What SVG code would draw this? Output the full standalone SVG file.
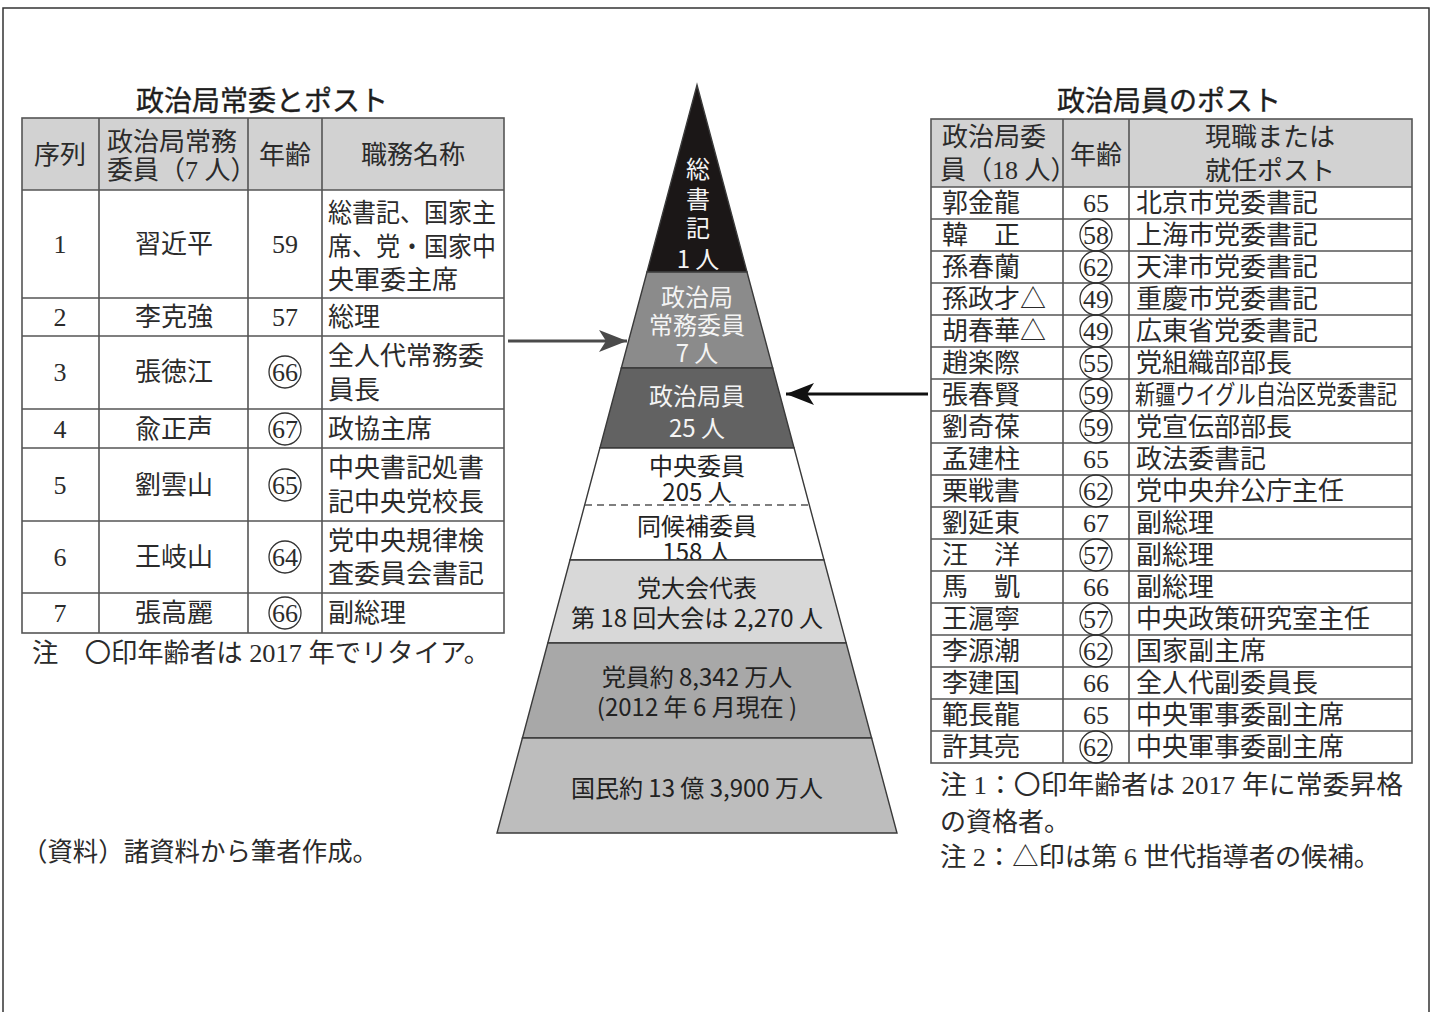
<svg xmlns="http://www.w3.org/2000/svg" width="1437" height="1012" viewBox="0 0 1437 1012">
<defs>
<style>
.t{font-family:"Liberation Serif","Noto Sans CJK JP",serif;font-size:26px;fill:#2b2b2b;dominant-baseline:central}
.m{text-anchor:middle}
.h{font-family:"Noto Sans CJK JP",sans-serif;font-size:28px;fill:#1e1e1e;text-anchor:middle;dominant-baseline:central;stroke:#1e1e1e;stroke-width:0.4}
.p{font-family:"Noto Sans CJK JP",sans-serif;font-size:24px;text-anchor:middle;dominant-baseline:central;fill:#222}
.w{fill:#f4f4f4}
.g{stroke:#555;stroke-width:1.6;fill:none}
.hd{fill:#d2d2d2}
.c{fill:none;stroke:#333;stroke-width:1.3}
.layer{stroke:#3a3a3a;stroke-width:1.4}
</style>
<marker id="ahL" markerUnits="userSpaceOnUse" markerWidth="30" markerHeight="24" refX="28" refY="11" orient="auto">
<path d="M0,0 L28,11 L0,22 L7,11 z" fill="#4a4a4a"/>
</marker>
<marker id="ahR" markerUnits="userSpaceOnUse" markerWidth="30" markerHeight="24" refX="28" refY="11" orient="auto">
<path d="M0,0 L28,11 L0,22 L7,11 z" fill="#111"/>
</marker>
</defs>
<rect width="1437" height="1012" fill="#fff"/>
<path d="M3,1012 V8 H1429 V1012" fill="none" stroke="#333" stroke-width="1.5"/>

<g id="title-left"><text class="h" x="262" y="99">政治局常委とポスト</text></g>

<g id="table-left">
<rect class="hd" x="22" y="118" width="482" height="72"/>
<rect class="g" x="22" y="118" width="482" height="515"/>
<path class="g" d="M99,118V633 M248,118V633 M322,118V633 M22,190H504 M22,298H504 M22,336H504 M22,409H504 M22,448H504 M22,521H504 M22,593H504"/>
<text class="t m" x="60" y="155">序列</text>
<text class="t" x="107" y="142">政治局常務</text>
<text class="t" x="107" y="170">委員（7 人）</text>
<text class="t m" x="285" y="155">年齢</text>
<text class="t m" x="413" y="155">職務名称</text>
<text class="t m" x="60" y="244">1</text><text class="t m" x="174" y="244">習近平</text><text class="t m" x="285" y="244">59</text>
<text class="t" x="328" y="213" textLength="168" lengthAdjust="spacingAndGlyphs">総書記、国家主</text>
<text class="t" x="328" y="247" textLength="168" lengthAdjust="spacingAndGlyphs">席、党・国家中</text>
<text class="t" x="328" y="280">央軍委主席</text>
<text class="t m" x="60" y="317">2</text><text class="t m" x="174" y="317">李克強</text><text class="t m" x="285" y="317">57</text><text class="t" x="328" y="317">総理</text>
<text class="t m" x="60" y="372">3</text><text class="t m" x="174" y="372">張徳江</text><circle class="c" cx="285" cy="372" r="16"/><text class="t m" x="285" y="372">66</text>
<text class="t" x="328" y="356">全人代常務委</text><text class="t" x="328" y="390">員長</text>
<text class="t m" x="60" y="429">4</text><text class="t m" x="174" y="429">兪正声</text><circle class="c" cx="285" cy="429" r="16"/><text class="t m" x="285" y="429">67</text><text class="t" x="328" y="429">政協主席</text>
<text class="t m" x="60" y="485">5</text><text class="t m" x="174" y="485">劉雲山</text><circle class="c" cx="285" cy="485" r="16"/><text class="t m" x="285" y="485">65</text>
<text class="t" x="328" y="468">中央書記処書</text><text class="t" x="328" y="502">記中央党校長</text>
<text class="t m" x="60" y="557">6</text><text class="t m" x="174" y="557">王岐山</text><circle class="c" cx="285" cy="557" r="16"/><text class="t m" x="285" y="557">64</text>
<text class="t" x="328" y="541">党中央規律検</text><text class="t" x="328" y="574">査委員会書記</text>
<text class="t m" x="60" y="613">7</text><text class="t m" x="174" y="613">張高麗</text><circle class="c" cx="285" cy="613" r="16"/><text class="t m" x="285" y="613">66</text><text class="t" x="328" y="613">副総理</text>
</g>

<g id="note-left"><text class="t" x="32" y="653" textLength="458" lengthAdjust="spacingAndGlyphs">注　〇印年齢者は 2017 年でリタイア。</text></g>
<g id="source"><text class="t" x="22" y="852" textLength="356" lengthAdjust="spacingAndGlyphs">（資料）諸資料から筆者作成。</text></g>

<g id="pyramid">
<g id="layer-1"><polygon class="layer" points="697,85 747,272 647,272" fill="#1b1717"/>
<text class="p w" x="698" y="167" font-size="27">総</text><text class="p w" x="698" y="197" font-size="27">書</text><text class="p w" x="698" y="226" font-size="27">記</text><text class="p w" x="698" y="257">1 人</text></g>
<g id="layer-2"><polygon class="layer" points="647,272 747,272 772.7,368 621.3,368" fill="#8b8b8b"/>
<text class="p w" x="697" y="295">政治局</text><text class="p w" x="697" y="323">常務委員</text><text class="p w" x="697" y="351">7 人</text></g>
<g id="layer-3"><polygon class="layer" points="621.3,368 772.7,368 794.1,448 599.9,448" fill="#626262"/>
<text class="p w" x="697" y="394">政治局員</text><text class="p w" x="697" y="426">25 人</text></g>
<g id="layer-4"><polygon class="layer" points="599.9,448 794.1,448 824,560 570,560" fill="#ffffff"/>
<line x1="585" y1="505" x2="809" y2="505" stroke="#555" stroke-width="1.5" stroke-dasharray="7,5"/>
<text class="p" x="697" y="464">中央委員</text><text class="p" x="697" y="490">205 人</text>
<text class="p" x="697" y="524">同候補委員</text><text class="p" x="697" y="550">158 人</text></g>
<g id="layer-5"><polygon class="layer" points="570,560 824,560 846.2,643 547.8,643" fill="#d8d8d8"/>
<text class="p" x="697" y="586" font-size="25">党大会代表</text><text class="p" x="697" y="616" font-size="25">第 18 回大会は 2,270 人</text></g>
<g id="layer-6"><polygon class="layer" points="547.8,643 846.2,643 871.6,738 522.4,738" fill="#a8a8a8"/>
<text class="p" x="697" y="675" font-size="25">党員約 8,342 万人</text><text class="p" x="697" y="705" font-size="25">(2012 年 6 月現在 )</text></g>
<g id="layer-7"><polygon class="layer" points="522.4,738 871.6,738 897,833 497,833" fill="#bdbdbd"/>
<text class="p" x="697" y="786" font-size="25">国民約 13 億 3,900 万人</text></g>
</g>

<g id="connectors">
<line x1="508" y1="341" x2="627" y2="341" stroke="#4a4a4a" stroke-width="3" marker-end="url(#ahL)"/>
<line x1="928" y1="394" x2="786" y2="394" stroke="#111" stroke-width="3" marker-end="url(#ahR)"/>
</g>

<g id="title-right"><text class="h" x="1169" y="99">政治局員のポスト</text></g>

<g id="table-right">
<rect class="hd" x="931" y="119" width="481" height="68"/>
<rect class="g" x="931" y="119" width="481" height="644"/>
<path class="g" d="M1063,119V763 M1129,119V763 M931,187H1412 M931,219H1412 M931,251H1412 M931,283H1412 M931,315H1412 M931,347H1412 M931,379H1412 M931,411H1412 M931,443H1412 M931,475H1412 M931,507H1412 M931,539H1412 M931,571H1412 M931,603H1412 M931,635H1412 M931,667H1412 M931,699H1412 M931,731H1412"/>
<text class="t" x="942" y="137">政治局委</text>
<text class="t" x="940" y="170">員（18 人）</text>
<text class="t m" x="1096" y="155">年齢</text>
<text class="t m" x="1270" y="137">現職または</text>
<text class="t m" x="1270" y="171">就任ポスト</text>

<text class="t" x="942" y="203">郭金龍</text><text class="t m" x="1096" y="203">65</text><text class="t" x="1136" y="203">北京市党委書記</text>
<text class="t" x="942" y="235">韓　正</text><circle class="c" cx="1096" cy="235" r="16"/><text class="t m" x="1096" y="235">58</text><text class="t" x="1136" y="235">上海市党委書記</text>
<text class="t" x="942" y="267">孫春蘭</text><circle class="c" cx="1096" cy="267" r="16"/><text class="t m" x="1096" y="267">62</text><text class="t" x="1136" y="267">天津市党委書記</text>
<text class="t" x="942" y="299">孫政才△</text><circle class="c" cx="1096" cy="299" r="16"/><text class="t m" x="1096" y="299">49</text><text class="t" x="1136" y="299">重慶市党委書記</text>
<text class="t" x="942" y="331">胡春華△</text><circle class="c" cx="1096" cy="331" r="16"/><text class="t m" x="1096" y="331">49</text><text class="t" x="1136" y="331">広東省党委書記</text>
<text class="t" x="942" y="363">趙楽際</text><circle class="c" cx="1096" cy="363" r="16"/><text class="t m" x="1096" y="363">55</text><text class="t" x="1136" y="363">党組織部部長</text>
<text class="t" x="942" y="395">張春賢</text><circle class="c" cx="1096" cy="395" r="16"/><text class="t m" x="1096" y="395">59</text><text class="t" x="1135" y="395" font-size="22" textLength="262" lengthAdjust="spacingAndGlyphs">新疆ウイグル自治区党委書記</text>
<text class="t" x="942" y="427">劉奇葆</text><circle class="c" cx="1096" cy="427" r="16"/><text class="t m" x="1096" y="427">59</text><text class="t" x="1136" y="427">党宣伝部部長</text>
<text class="t" x="942" y="459">孟建柱</text><text class="t m" x="1096" y="459">65</text><text class="t" x="1136" y="459">政法委書記</text>
<text class="t" x="942" y="491">栗戦書</text><circle class="c" cx="1096" cy="491" r="16"/><text class="t m" x="1096" y="491">62</text><text class="t" x="1136" y="491">党中央弁公庁主任</text>
<text class="t" x="942" y="523">劉延東</text><text class="t m" x="1096" y="523">67</text><text class="t" x="1136" y="523">副総理</text>
<text class="t" x="942" y="555">汪　洋</text><circle class="c" cx="1096" cy="555" r="16"/><text class="t m" x="1096" y="555">57</text><text class="t" x="1136" y="555">副総理</text>
<text class="t" x="942" y="587">馬　凱</text><text class="t m" x="1096" y="587">66</text><text class="t" x="1136" y="587">副総理</text>
<text class="t" x="942" y="619">王滬寧</text><circle class="c" cx="1096" cy="619" r="16"/><text class="t m" x="1096" y="619">57</text><text class="t" x="1136" y="619">中央政策研究室主任</text>
<text class="t" x="942" y="651">李源潮</text><circle class="c" cx="1096" cy="651" r="16"/><text class="t m" x="1096" y="651">62</text><text class="t" x="1136" y="651">国家副主席</text>
<text class="t" x="942" y="683">李建国</text><text class="t m" x="1096" y="683">66</text><text class="t" x="1136" y="683">全人代副委員長</text>
<text class="t" x="942" y="715">範長龍</text><text class="t m" x="1096" y="715">65</text><text class="t" x="1136" y="715">中央軍事委副主席</text>
<text class="t" x="942" y="747">許其亮</text><circle class="c" cx="1096" cy="747" r="16"/><text class="t m" x="1096" y="747">62</text><text class="t" x="1136" y="747">中央軍事委副主席</text>
</g>

<g id="notes-right">
<text class="t" x="940" y="785" textLength="463" lengthAdjust="spacingAndGlyphs">注 1：〇印年齢者は 2017 年に常委昇格</text>
<text class="t" x="940" y="822">の資格者。</text>
<text class="t" x="940" y="857" textLength="440" lengthAdjust="spacingAndGlyphs">注 2：△印は第 6 世代指導者の候補。</text>
</g>
</svg>
